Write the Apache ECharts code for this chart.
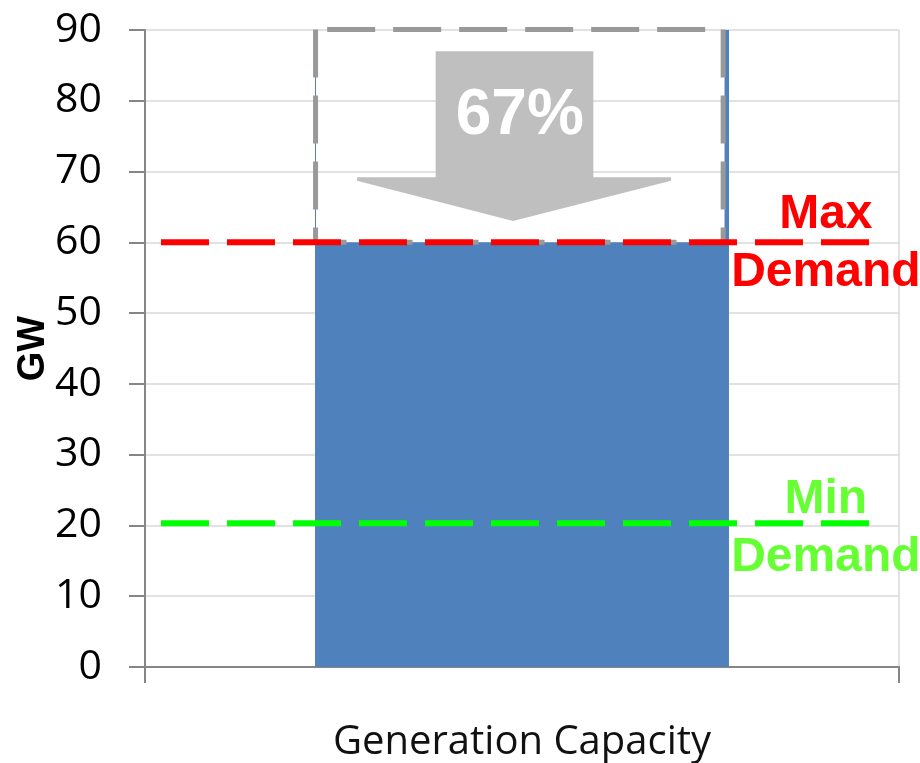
<!DOCTYPE html>
<html>
<head>
<meta charset="utf-8">
<script src="https://cdn.jsdelivr.net/npm/echarts@6/dist/echarts.min.js"></script>
<style>
  html, body { margin: 0; padding: 0; background: #fff; }
  #chart { width: 920px; height: 763px; }
</style>
</head>
<body>
<div id="chart"></div>
<script>
// Chart data
const categories = ['Generation Capacity'];
const installedCapacity = [90];   // GW, total installed
const usedCapacity = [60];        // GW, needed to meet peak demand
const maxDemand = [60];           // GW
const minDemand = [20.3];         // GW
const yTicks = { min: 0, max: 90, step: 10 };

const BLUE = '#4F81BD';
const GRID = '#D9D9D9';
const AXIS = '#868686';

const shareLabel = Math.round(usedCapacity[0] / installedCapacity[0] * 100) + '%';

const chart = echarts.init(document.getElementById('chart'), null, { renderer: 'canvas' });

// Dashed frame for the unused headroom plus the downward arrow with its percentage
function renderHeadroom(params, api) {
  const cat = api.value(0);
  const low = api.coord([cat, api.value(1)]);
  const high = api.coord([cat, api.value(2)]);
  const bw = api.size([1, 0])[0];
  const cx = low[0];
  const X = f => cx + f * bw;
  const Y = v => api.coord([cat, v])[1];

  const left = X(-0.2738), right = X(0.2668);
  const top = high[1] - 0.5, bottom = low[1];
  const dash = { stroke: '#999999', lineWidth: 5, lineDash: [48, 18] };

  const arrowPts = [
    [X(-0.1145), Y(87)], [X(0.0946), Y(87)], [X(0.0946), Y(69.2)],
    [X(0.1976), Y(69.2)], [X(0.1976), Y(68.7)], [X(-0.0119), Y(63)],
    [X(-0.2188), Y(68.7)], [X(-0.2188), Y(69.2)], [X(-0.1145), Y(69.2)]
  ];

  return {
    type: 'group',
    children: [
      { type: 'line', shape: { x1: X(-0.2745) + 0.5, y1: high[1], x2: X(-0.2745) + 0.5, y2: low[1] },
        style: { stroke: BLUE, lineWidth: 1 } },
      { type: 'line', shape: { x1: X(0.2716), y1: high[1], x2: X(0.2716), y2: low[1] },
        style: { stroke: BLUE, lineWidth: 4.5 } },
      { type: 'line', shape: { x1: right, y1: top, x2: left, y2: top },
        style: Object.assign({ lineDashOffset: 48 }, dash) },
      { type: 'line', shape: { x1: left, y1: top, x2: left, y2: bottom },
        style: Object.assign({}, dash) },
      { type: 'line', shape: { x1: right, y1: top, x2: right, y2: bottom },
        style: Object.assign({}, dash) },
      { type: 'line', shape: { x1: left, y1: bottom, x2: right, y2: bottom },
        style: Object.assign({ lineDashOffset: 17 }, dash) },
      { type: 'polygon', shape: { points: arrowPts }, style: { fill: '#BFBFBF' } },
      { type: 'text', x: X(-0.003), y: Y(77.8),
        style: { text: shareLabel, fill: '#FFFFFF', font: 'bold 64px "Liberation Sans", Arial, sans-serif',
                 align: 'center', verticalAlign: 'middle' } }
    ]
  };
}

// Dashed demand level with its two-line caption on the right
function demandSeries(name, values, lineColor, textColor, caption, captionShift) {
  return {
    name: name,
    type: 'custom',
    z: 5,
    data: values.map((v, i) => [i, v]),
    encode: { x: 0, y: 1 },
    renderItem: function (params, api) {
      const p = api.coord([api.value(0), api.value(1)]);
      const bw = api.size([1, 0])[0];
      return {
        type: 'group',
        children: [
          { type: 'line', shape: { x1: p[0] - 0.4788 * bw, y1: p[1], x2: p[0] + 0.4602 * bw, y2: p[1] },
            style: { stroke: lineColor, lineWidth: 6, lineDash: [48, 18] } },
          { type: 'text', x: p[0] + 0.403 * bw, y: p[1] + captionShift,
            style: { text: caption, fill: textColor, font: 'bold 48px "Liberation Sans", Arial, sans-serif',
                     lineHeight: 58, align: 'center', verticalAlign: 'middle' } }
        ]
      };
    }
  };
}

const option = {
  animation: false,
  backgroundColor: '#FFFFFF',
  grid: { left: 145, right: 21, top: 30, bottom: 94, containLabel: false },
  xAxis: {
    type: 'category',
    data: categories,
    boundaryGap: true,
    axisLine: { show: true, lineStyle: { color: AXIS, width: 2 } },
    axisTick: { show: true, length: 16, lineStyle: { color: AXIS, width: 2 } },
    splitLine: { show: true, lineStyle: { color: GRID, width: 1.5 } },
    axisLabel: { margin: 56, color: '#111', fontSize: 40, fontFamily: '"Open Sans", sans-serif' }
  },
  yAxis: {
    type: 'value',
    min: yTicks.min,
    max: yTicks.max,
    interval: yTicks.step,
    name: 'GW',
    nameLocation: 'middle',
    nameRotate: 90,
    nameGap: 92,
    nameMoveOverlap: false,
    nameTextStyle: { color: '#000', fontSize: 38, fontWeight: 'bold', fontFamily: '"Liberation Sans", Arial, sans-serif' },
    axisLine: { show: true, lineStyle: { color: AXIS, width: 2 } },
    axisTick: { show: true, length: 16, lineStyle: { color: AXIS, width: 2 } },
    splitLine: { show: true, lineStyle: { color: GRID, width: 1.5 } },
    axisLabel: { margin: 43, color: '#000', fontSize: 41, fontFamily: '"Open Sans", sans-serif' }
  },
  series: [
    {
      name: 'Used capacity',
      type: 'bar',
      data: usedCapacity,
      barWidth: '54.9%',
      itemStyle: { color: BLUE },
      z: 2
    },
    {
      name: 'Headroom',
      type: 'custom',
      z: 3,
      data: categories.map((c, i) => [i, usedCapacity[i], installedCapacity[i]]),
      encode: { x: 0, y: [1, 2] },
      renderItem: renderHeadroom
    },
    demandSeries('Max Demand', maxDemand, '#FF0000', '#FF0000', 'Max\nDemand', 1),
    demandSeries('Min Demand', minDemand, '#00FF00', '#66FF33', 'Min\nDemand', 5)
  ]
};

chart.setOption(option);
</script>
</body>
</html>
